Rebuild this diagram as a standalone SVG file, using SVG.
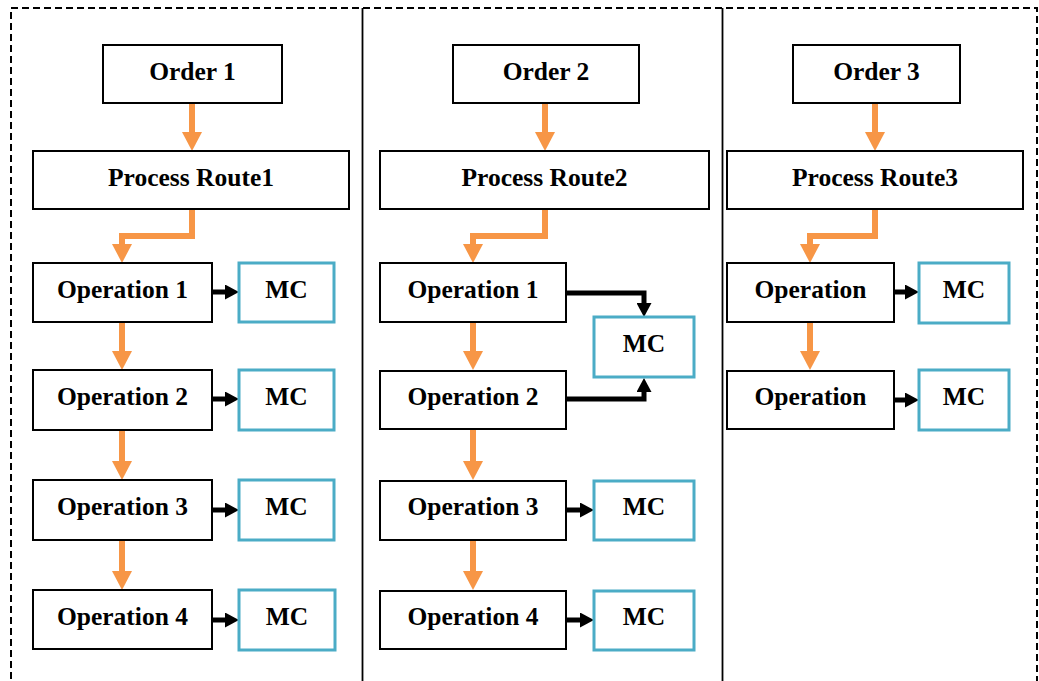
<svg xmlns="http://www.w3.org/2000/svg" width="1039" height="681" viewBox="0 0 1039 681">
  <style>
    .box { fill: #ffffff; stroke: #000000; stroke-width: 2; }
    .mc { fill: #ffffff; stroke: #4BACC6; stroke-width: 3; }
    .lbl { font-family: "Liberation Serif", "Times New Roman", serif; font-weight: bold; font-size: 25.5px; fill: #000000; text-anchor: middle; }
    .flow { fill: none; stroke: #F79646; stroke-width: 6; marker-end: url(#headOrange); }
    .assign { fill: none; stroke: #000000; stroke-width: 5; marker-end: url(#headBlack); }
    .frame { fill: none; stroke: #000000; stroke-width: 2; stroke-dasharray: 7 4; }
    .divider { stroke: #000000; stroke-width: 1.8; }
  </style>
  <defs>
    <marker id="headOrange" markerUnits="userSpaceOnUse" markerWidth="19" markerHeight="20" refX="0" refY="10" orient="auto" viewBox="0 0 19 20">
      <path d="M0,0 L19,10 L0,20 Z" fill="#F79646"/>
    </marker>
    <marker id="headBlack" markerUnits="userSpaceOnUse" markerWidth="14" markerHeight="15" refX="0" refY="7.5" orient="auto" viewBox="0 0 14 15">
      <path d="M0,0 L14,7.5 L0,15 Z" fill="#000000"/>
    </marker>
  </defs>

  <rect width="1039" height="681" fill="#ffffff"/>

  <!-- outer frame and column dividers -->
  <rect class="frame" x="11" y="8" width="1026" height="690"/>
  <line class="divider" x1="362.5" y1="8" x2="362.5" y2="681"/>
  <line class="divider" x1="722.5" y1="8" x2="722.5" y2="681"/>

  <!-- connectors -->
  <g id="connectors">
    <!-- column 1 -->
    <path class="flow" d="M192,103 V132"/>
    <path class="flow" d="M192,209 V236 H122 V244"/>
    <path class="flow" d="M122,322 V351"/>
    <path class="flow" d="M122,430 V461"/>
    <path class="flow" d="M122,540 V571"/>
    <path class="assign" d="M212,292 H225"/>
    <path class="assign" d="M212,399 H225"/>
    <path class="assign" d="M212,510 H225"/>
    <path class="assign" d="M212,620 H225"/>
    <!-- column 2 -->
    <path class="flow" d="M545,103 V132"/>
    <path class="flow" d="M545,209 V236 H473 V244"/>
    <path class="flow" d="M473,322 V351"/>
    <path class="flow" d="M473,430 V461"/>
    <path class="flow" d="M473,540 V571"/>
    <path class="assign" d="M566,293 H644 V303"/>
    <path class="assign" d="M566,399 H644 V392"/>
    <path class="assign" d="M566,510 H580"/>
    <path class="assign" d="M566,620 H580"/>
    <!-- column 3 -->
    <path class="flow" d="M875,103 V132"/>
    <path class="flow" d="M875,209 V236 H810 V244"/>
    <path class="flow" d="M810,322 V351"/>
    <path class="assign" d="M894,292 H905"/>
    <path class="assign" d="M894,400 H905"/>
  </g>

  <!-- column 1 nodes -->
  <g id="order1"><rect class="box" x="103" y="45" width="179" height="58"/><text class="lbl" x="192.5" y="80">Order 1</text></g>
  <g id="route1"><rect class="box" x="33" y="151" width="316" height="58"/><text class="lbl" x="191" y="186">Process Route1</text></g>
  <g id="op1-1"><rect class="box" x="33" y="263" width="179" height="59"/><text class="lbl" x="122.5" y="298">Operation 1</text></g>
  <g id="mc1-1"><rect class="mc" x="239" y="263" width="95" height="59"/><text class="lbl" x="286.5" y="298">MC</text></g>
  <g id="op1-2"><rect class="box" x="33" y="370" width="179" height="60"/><text class="lbl" x="122.5" y="405">Operation 2</text></g>
  <g id="mc1-2"><rect class="mc" x="239" y="370" width="95" height="60"/><text class="lbl" x="286.5" y="405">MC</text></g>
  <g id="op1-3"><rect class="box" x="33" y="480" width="179" height="60"/><text class="lbl" x="122.5" y="515">Operation 3</text></g>
  <g id="mc1-3"><rect class="mc" x="239" y="480" width="95" height="60"/><text class="lbl" x="286.5" y="515">MC</text></g>
  <g id="op1-4"><rect class="box" x="33" y="590" width="179" height="59"/><text class="lbl" x="122.5" y="625">Operation 4</text></g>
  <g id="mc1-4"><rect class="mc" x="239" y="590" width="96" height="60"/><text class="lbl" x="287" y="625">MC</text></g>

  <!-- column 2 nodes -->
  <g id="order2"><rect class="box" x="453" y="45" width="186" height="58"/><text class="lbl" x="546" y="80">Order 2</text></g>
  <g id="route2"><rect class="box" x="380" y="151" width="329" height="58"/><text class="lbl" x="544.5" y="186">Process Route2</text></g>
  <g id="op2-1"><rect class="box" x="380" y="263" width="186" height="59"/><text class="lbl" x="473" y="298">Operation 1</text></g>
  <g id="mc2-12"><rect class="mc" x="594" y="317" width="100" height="60"/><text class="lbl" x="644" y="352">MC</text></g>
  <g id="op2-2"><rect class="box" x="380" y="371" width="186" height="58"/><text class="lbl" x="473" y="405">Operation 2</text></g>
  <g id="op2-3"><rect class="box" x="380" y="481" width="186" height="59"/><text class="lbl" x="473" y="515">Operation 3</text></g>
  <g id="mc2-3"><rect class="mc" x="594" y="481" width="100" height="59"/><text class="lbl" x="644" y="515">MC</text></g>
  <g id="op2-4"><rect class="box" x="380" y="591" width="186" height="58"/><text class="lbl" x="473" y="625">Operation 4</text></g>
  <g id="mc2-4"><rect class="mc" x="594" y="591" width="100" height="59"/><text class="lbl" x="644" y="625">MC</text></g>

  <!-- column 3 nodes -->
  <g id="order3"><rect class="box" x="793" y="45" width="167" height="58"/><text class="lbl" x="876.5" y="80">Order 3</text></g>
  <g id="route3"><rect class="box" x="727" y="151" width="296" height="58"/><text class="lbl" x="875" y="186">Process Route3</text></g>
  <g id="op3-1"><rect class="box" x="727" y="263" width="167" height="59"/><text class="lbl" x="810.5" y="298">Operation</text></g>
  <g id="mc3-1"><rect class="mc" x="919" y="263" width="90" height="60"/><text class="lbl" x="964" y="298">MC</text></g>
  <g id="op3-2"><rect class="box" x="727" y="371" width="167" height="58"/><text class="lbl" x="810.5" y="405">Operation</text></g>
  <g id="mc3-2"><rect class="mc" x="919" y="370" width="90" height="60"/><text class="lbl" x="964" y="405">MC</text></g>
</svg>
